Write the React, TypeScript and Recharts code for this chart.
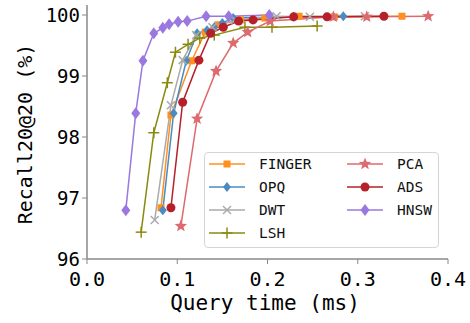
import React from 'react';
import { LineChart, Line, XAxis, YAxis } from 'recharts';

const FONT = '"DejaVu Sans Mono", "Liberation Mono", monospace';

const xTicks = [0, 0.1, 0.2, 0.3, 0.4];
const yTicks = [96, 97, 98, 99, 100];

const fingerX = [0.082, 0.093, 0.116, 0.131, 0.145, 0.17, 0.197, 0.235, 0.274, 0.349];
const fingerY = [96.84, 98.36, 99.25, 99.72, 99.84, 99.92, 99.95, 99.98, 99.97, 99.98];

const opqX = [0.084, 0.096, 0.11, 0.122, 0.133, 0.141, 0.15, 0.162, 0.229, 0.284];
const opqY = [96.8, 98.39, 99.25, 99.7, 99.75, 99.8, 99.87, 99.95, 99.97, 99.98];

const dwtX = [0.075, 0.093, 0.106, 0.121, 0.139, 0.164, 0.21, 0.247, 0.308];
const dwtY = [96.64, 98.52, 99.26, 99.67, 99.8, 99.92, 99.98, 99.97, 99.98];

const lshX = [0.06, 0.074, 0.089, 0.098, 0.112, 0.125, 0.141, 0.175, 0.205, 0.255];
const lshY = [96.44, 98.07, 98.89, 99.39, 99.52, 99.62, 99.67, 99.8, 99.8, 99.82];

const pcaX = [0.104, 0.122, 0.143, 0.162, 0.178, 0.203, 0.273, 0.31, 0.378];
const pcaY = [96.54, 98.3, 99.08, 99.54, 99.72, 99.9, 99.97, 99.97, 99.98];

const adsX = [0.093, 0.106, 0.124, 0.137, 0.151, 0.168, 0.184, 0.229, 0.266, 0.329];
const adsY = [96.84, 98.57, 99.26, 99.7, 99.8, 99.9, 99.92, 99.97, 99.97, 99.98];

const hnswX = [0.043, 0.054, 0.062, 0.074, 0.084, 0.091, 0.101, 0.111, 0.132, 0.157, 0.202];
const hnswY = [96.8, 98.39, 99.25, 99.7, 99.79, 99.85, 99.89, 99.9, 99.98, 99.98, 100.0];

const toData = (xs: number[], ys: number[]) => xs.map((x, i) => ({ x, y: ys[i] }));

type Shape = 'square' | 'diamond' | 'x' | 'plus' | 'star' | 'circle' | 'bigdiamond';

const Marker = ({ cx, cy, color, shape }: { cx: number; cy: number; color: string; shape: Shape }) => {
  if (cx == null || cy == null || isNaN(cx) || isNaN(cy)) return null;
  switch (shape) {
    case 'square':
      return <rect x={cx - 3.5} y={cy - 3.5} width={7} height={7} fill={color} />;
    case 'diamond':
      return <polygon points={`${cx},${cy - 5} ${cx + 4},${cy} ${cx},${cy + 5} ${cx - 4},${cy}`} fill={color} />;
    case 'bigdiamond':
      return <polygon points={`${cx},${cy - 6} ${cx + 4.5},${cy} ${cx},${cy + 6} ${cx - 4.5},${cy}`} fill={color} />;
    case 'x':
      return (
        <g stroke={color} strokeWidth={1.5}>
          <line x1={cx - 4} y1={cy - 4} x2={cx + 4} y2={cy + 4} />
          <line x1={cx - 4} y1={cy + 4} x2={cx + 4} y2={cy - 4} />
        </g>
      );
    case 'plus':
      return (
        <g stroke={color} strokeWidth={1.5}>
          <line x1={cx - 5.5} y1={cy} x2={cx + 5.5} y2={cy} />
          <line x1={cx} y1={cy - 5.5} x2={cx} y2={cy + 5.5} />
        </g>
      );
    case 'star': {
      const pts: string[] = [];
      for (let i = 0; i < 10; i++) {
        const r = i % 2 === 0 ? 6.5 : 2.8;
        const a = -Math.PI / 2 + (i * Math.PI) / 5;
        pts.push(`${cx + r * Math.cos(a)},${cy + r * Math.sin(a)}`);
      }
      return <polygon points={pts.join(' ')} fill={color} />;
    }
    case 'circle':
    default:
      return <circle cx={cx} cy={cy} r={4.5} fill={color} />;
  }
};

const series: { name: string; xs: number[]; ys: number[]; color: string; shape: Shape }[] = [
  { name: 'FINGER', xs: fingerX, ys: fingerY, color: '#ff8f1f', shape: 'square' },
  { name: 'OPQ', xs: opqX, ys: opqY, color: '#4a8cc2', shape: 'diamond' },
  { name: 'DWT', xs: dwtX, ys: dwtY, color: '#aaaaaa', shape: 'x' },
  { name: 'LSH', xs: lshX, ys: lshY, color: '#8a8a12', shape: 'plus' },
  { name: 'PCA', xs: pcaX, ys: pcaY, color: '#dc6a6e', shape: 'star' },
  { name: 'ADS', xs: adsX, ys: adsY, color: '#b5202a', shape: 'circle' },
  { name: 'HNSW', xs: hnswX, ys: hnswY, color: '#9a78e0', shape: 'bigdiamond' },
];

const LegendItem = ({ s, x, y }: { s: (typeof series)[number]; x: number; y: number }) => (
  <div style={{ position: 'absolute', left: x, top: y - 11, height: 22, display: 'flex', alignItems: 'center' }}>
    <svg width={38} height={22} style={{ display: 'block' }}>
      <line x1={1} y1={11} x2={37} y2={11} stroke={s.color} strokeWidth={1.5} />
      <Marker cx={19} cy={11} color={s.color} shape={s.shape} />
    </svg>
    <span style={{ marginLeft: 13, fontFamily: FONT, fontSize: 14.5, color: '#111', lineHeight: '22px' }}>{s.name}</span>
  </div>
);

export default function App() {
  return (
    <div style={{ position: 'absolute', left: 0, top: 0, width: 470, height: 323, background: '#fff' }}>
      <LineChart width={470} height={323} margin={{ top: 5, right: 22, left: 0, bottom: 0 }}>
        <XAxis
          type="number"
          dataKey="x"
          domain={[0, 0.4]}
          ticks={xTicks}
          allowDataOverflow
          height={64}
          tickFormatter={(v: number) => v.toFixed(1)}
          tick={{ fontFamily: FONT, fontSize: 20, fill: '#000' }}
          tickSize={5}
          tickMargin={8}
          stroke="#888"
          axisLine={{ stroke: '#888', strokeWidth: 1.5 }}
          tickLine={{ stroke: '#888' }}
        />
        <XAxis
          xAxisId="top"
          orientation="top"
          type="number"
          domain={[0, 0.4]}
          height={0}
          tick={false}
          tickLine={false}
          axisLine={{ stroke: '#555', strokeWidth: 1.5 }}
        />
        <YAxis
          type="number"
          dataKey="y"
          domain={[96, 100.164]}
          ticks={yTicks}
          allowDataOverflow
          width={87}
          tick={{ fontFamily: FONT, fontSize: 19, fill: '#000' }}
          tickSize={5}
          tickMargin={2}
          axisLine={{ stroke: '#888', strokeWidth: 1.5 }}
          tickLine={{ stroke: '#888' }}
        />
        <YAxis
          yAxisId="right"
          orientation="right"
          type="number"
          domain={[96, 100.164]}
          width={0}
          tick={false}
          tickLine={false}
          axisLine={{ stroke: '#555', strokeWidth: 1.5 }}
        />
        {series.map((s) => (
          <Line
            key={s.name}
            name={s.name}
            data={toData(s.xs, s.ys)}
            dataKey="y"
            stroke={s.color}
            strokeWidth={1.5}
            isAnimationActive={false}
            activeDot={false}
            dot={(p: any) => <Marker key={`${s.name}-${p.index}`} cx={p.cx} cy={p.cy} color={s.color} shape={s.shape} />}
          />
        ))}
      </LineChart>
      <svg width={470} height={323} style={{ position: 'absolute', left: 0, top: 0, pointerEvents: 'none' }}>
        <text x={25} y={134} transform="rotate(-90 25 134)" textAnchor="middle" dominantBaseline="central" fontFamily={FONT} fontSize={20} fill="#000">
          Recall20@20 (%)
        </text>
        <text x={265} y={303} textAnchor="middle" dominantBaseline="central" fontFamily={FONT} fontSize={21} fill="#000">
          Query time (ms)
        </text>
      </svg>
      <div
        style={{
          position: 'absolute',
          left: 204,
          top: 152,
          width: 235,
          height: 96,
          border: '1px solid #d4d4d4',
          borderRadius: 4,
          background: 'rgba(255,255,255,0.85)',
          boxSizing: 'border-box',
        }}
      />
      <LegendItem s={series[0]} x={208} y={164} />
      <LegendItem s={series[1]} x={208} y={187} />
      <LegendItem s={series[2]} x={208} y={210} />
      <LegendItem s={series[3]} x={208} y={233} />
      <LegendItem s={series[4]} x={346} y={164} />
      <LegendItem s={series[5]} x={346} y={187} />
      <LegendItem s={series[6]} x={346} y={210} />
    </div>
  );
}
